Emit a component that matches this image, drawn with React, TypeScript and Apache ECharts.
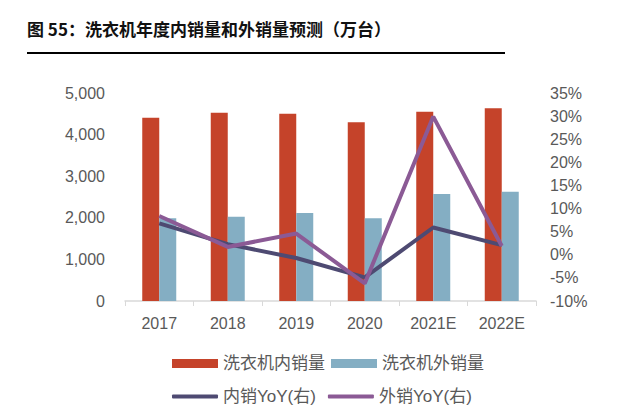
import React, { useEffect, useRef } from "react";
import * as echarts from "echarts";

const categories = ["2017", "2018", "2019", "2020", "2021E", "2022E"];
const domesticSales = [4406, 4526, 4502, 4295, 4550, 4632];
const exportSales = [1988, 2026, 2115, 1988, 2572, 2628];
const domesticYoY = [6.8, 2.3, -0.7, -4.9, 5.9, 2.1];
const exportYoY = [8.4, 1.7, 4.6, -6.2, 29.9, 1.9];

const title = "图 55：洗衣机年度内销量和外销量预测（万台）";
const FONT = "Arial, 'Liberation Sans', 'Noto Sans CJK SC', sans-serif";

export default function App() {
  const ref = useRef<HTMLDivElement>(null);
  useEffect(() => {
    const chart = echarts.init(ref.current!, undefined, { renderer: "svg" });
    chart.setOption({
      animation: false,
      textStyle: { fontFamily: FONT },
      graphic: [
        {
          type: "text",
          left: 27,
          top: 20,
          style: {
            text: title,
            font: "bold 17px 'Noto Sans CJK SC', sans-serif",
            fill: "#111",
          },
        },
        {
          type: "line",
          shape: { x1: 27, y1: 53, x2: 505, y2: 53 },
          style: { stroke: "#000", lineWidth: 2 },
        },
      ],
      grid: { left: 125, right: 105, top: 93, bottom: 112 },
      legend: [
        {
          data: ["洗衣机内销量", "洗衣机外销量"],
          left: 172,
          top: 355,
          padding: 0,
          itemWidth: 46,
          itemHeight: 9,
          itemGap: 6,
          icon: "rect",
          textStyle: { fontSize: 17, color: "#595959", fontFamily: FONT },
        },
        {
          data: ["内销YoY(右)", "外销YoY(右)"],
          left: 172,
          top: 388,
          padding: 0,
          itemWidth: 46,
          itemHeight: 4,
          itemGap: 12,
          icon: "roundRect",
          textStyle: { fontSize: 17, color: "#595959", fontFamily: FONT },
        },
      ],
      xAxis: {
        type: "category",
        data: categories,
        axisLine: { lineStyle: { color: "#D9D9D9", width: 1.5 } },
        axisTick: { show: true, length: 5, lineStyle: { color: "#D9D9D9" } },
        axisLabel: { fontSize: 16, color: "#595959", margin: 14 },
      },
      yAxis: [
        {
          type: "value",
          min: 0,
          max: 5000,
          interval: 1000,
          splitLine: { show: false },
          axisLine: { show: false },
          axisTick: { show: false },
          axisLabel: {
            fontSize: 16,
            color: "#595959",
            margin: 20,
            formatter: (v: number) => v.toLocaleString("en-US"),
          },
        },
        {
          type: "value",
          min: -10,
          max: 35,
          interval: 5,
          splitLine: { show: false },
          axisLine: { show: false },
          axisTick: { show: false },
          axisLabel: {
            fontSize: 16,
            color: "#595959",
            margin: 14,
            formatter: (v: number) => v + "%",
          },
        },
      ],
      series: [
        {
          name: "洗衣机内销量",
          type: "bar",
          data: domesticSales,
          barWidth: 17,
          barGap: "0%",
          itemStyle: { color: "#C5432A" },
        },
        {
          name: "洗衣机外销量",
          type: "bar",
          data: exportSales,
          barWidth: 17,
          barGap: "0%",
          itemStyle: { color: "#84AEC3" },
        },
        {
          name: "内销YoY(右)",
          type: "line",
          yAxisIndex: 1,
          data: domesticYoY,
          symbol: "none",
          lineStyle: { color: "#4E4A72", width: 4 },
          itemStyle: { color: "#4E4A72" },
        },
        {
          name: "外销YoY(右)",
          type: "line",
          yAxisIndex: 1,
          data: exportYoY,
          symbol: "none",
          lineStyle: { color: "#8B5A95", width: 4 },
          itemStyle: { color: "#8B5A95" },
        },
      ],
    });
    return () => chart.dispose();
  }, []);
  return <div ref={ref} style={{ width: 641, height: 413, position: "absolute", left: 0, top: 0 }} />;
}
